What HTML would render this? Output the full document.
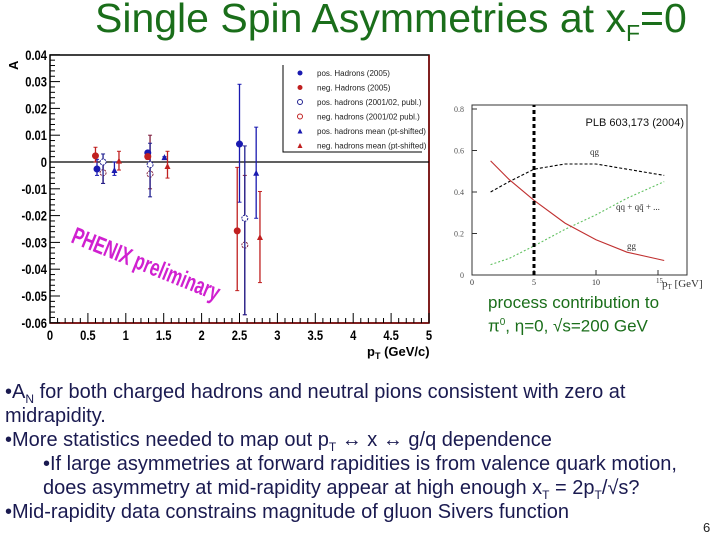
<!DOCTYPE html>
<html><head><meta charset="utf-8"><style>
body{margin:0;width:720px;height:540px;background:#fff;overflow:hidden;position:relative;font-family:"Liberation Sans",Arial,sans-serif}
.t{position:absolute;white-space:nowrap}
#title{left:95px;top:-5px;font-size:41px;color:#1a6e1a}
.b{font-size:20px;color:#1a1a50;position:absolute;white-space:nowrap;left:5px;line-height:24px}
sub{font-size:12px}
</style></head><body>
<div id="title" class="t">Single Spin Asymmetries at x<sub style="font-size:23px">F</sub>=0</div>
<svg id="main" width="720" height="540" style="position:absolute;left:0;top:0"></svg>
<div class="b" style="top:380px">•A<sub>N</sub> for both charged hadrons and neutral pions consistent with zero at</div>
<div class="b" style="top:404px">midrapidity.</div>
<div class="b" style="top:428px">•More statistics needed to map out p<sub>T</sub> ↔ x ↔ g/q dependence</div>
<div class="b" style="top:452px;left:43px">•If large asymmetries at forward rapidities is from valence quark motion,</div>
<div class="b" style="top:476px;left:43px">does asymmetry at mid-rapidity appear at high enough x<sub>T</sub> = 2p<sub>T</sub>/√s?</div>
<div class="b" style="top:500px">•Mid-rapidity data constrains magnitude of gluon Sivers function</div>
<div class="t" style="left:703px;top:520px;font-size:13px;color:#222">6</div>
<div class="t" style="left:488px;top:293px;font-size:17px;color:#1a6e1a;line-height:20px">process contribution to<br>π<sup style="font-size:10px">0</sup>, η=0, √s=200 GeV</div>
<script>
// Main chart data
const posH05 = [[0.62,-0.0026,0.001,-0.005],[1.29,0.0034,0.004,0.002],[2.50,0.0067,0.029,-0.015]];
const negH05 = [[0.60,0.0023,0.0055,0.0],[1.29,0.0020,0.003,0.001],[2.47,-0.0257,-0.002,-0.048]];
const posOpen = [[0.70,0.0,0.003,-0.008],[1.32,-0.001,0.007,-0.013],[2.57,-0.021,0.006,-0.057]];
const negOpen = [[0.70,-0.004,0.0,-0.008],[1.32,-0.0045,0.010,-0.010],[2.57,-0.031,-0.005,-0.057]];
const posMean = [[0.85,-0.003,0.0,-0.005],[1.51,0.0018,0.002,0.0015],[2.72,-0.004,0.013,-0.021]];
const negMean = [[0.91,0.0005,0.004,-0.003],[1.55,-0.0015,0.004,-0.006],[2.77,-0.028,-0.011,-0.045]];
const xTicks=[0,0.5,1,1.5,2,2.5,3,3.5,4,4.5,5];
const yTicks=[0.04,0.03,0.02,0.01,0,-0.01,-0.02,-0.03,-0.04,-0.05,-0.06];
const yTickLabels=["0.04","0.03","0.02","0.01","0","-0.01","-0.02","-0.03","-0.04","-0.05","-0.06"];
// Inset data
const insetX=[1.5,3,5,7.5,10,12.5,15.5];
const ggVals=[0.55,0.46,0.36,0.25,0.17,0.11,0.07];
const qgVals=[0.40,0.45,0.51,0.535,0.535,0.51,0.48];
const qqVals=[0.05,0.08,0.14,0.22,0.29,0.37,0.45];
const insetXTicks=[0,5,10,15];
const insetYTicks=[0,0.2,0.4,0.6,0.8];

const NS="http://www.w3.org/2000/svg";
const svg=document.getElementById('main');
function mk(tag,a,parent){const e=document.createElementNS(NS,tag);for(const k in a)e.setAttribute(k,a[k]);(parent||svg).appendChild(e);return e;}
function txt(x,y,s,a){const e=mk('text',Object.assign({x:x,y:y},a));e.textContent=s;return e;}
const X=v=>50+v*75.8, Y=v=>162-v*2680;
let f=mk('rect',{x:50,y:55,width:379,height:268,fill:'none',stroke:'#000','stroke-width':1.5});

mk('line',{x1:429,y1:55,x2:429,y2:323,stroke:'#800000','stroke-width':1.5});
mk('line',{x1:50,y1:323,x2:429,y2:323,stroke:'#800000','stroke-width':1.5});
xTicks.forEach((v,i)=>{mk('line',{x1:X(v),y1:323,x2:X(v),y2:313,stroke:'#000'});
 if(i<10)for(let k=1;k<5;k++)mk('line',{x1:X(v+k*0.1),y1:323,x2:X(v+k*0.1),y2:318,stroke:'#000'});
 const t=txt(X(v),340,String(v),{'font-size':14,'font-weight':'bold','text-anchor':'middle',transform:`translate(${X(v)},0) scale(0.8,1) translate(${-X(v)},0)`});
 });
yTicks.forEach((v,i)=>{mk('line',{x1:50,y1:Y(v),x2:60,y2:Y(v),stroke:'#000'});
 if(i<10)for(let k=1;k<5;k++)mk('line',{x1:50,y1:Y(v-k*0.002),x2:55,y2:Y(v-k*0.002),stroke:'#000'});
 const t=txt(47,Y(v)+5,yTickLabels[i],{'font-size':14,'font-weight':'bold','text-anchor':'end',transform:`translate(47,0) scale(0.8,1) translate(-47,0)`});
 });
mk('line',{x1:50,y1:Y(0),x2:429,y2:Y(0),stroke:'#000','stroke-width':1.2});
let yl=txt(18,70,'A',{'font-size':13,'font-weight':'bold',transform:'rotate(-90 18 70)'});

let xl=txt(367,356,'p',{'font-size':13,'font-weight':'bold'});
xl.innerHTML='p<tspan font-size="9" dy="3">T</tspan><tspan dy="-3"> (GeV/c)</tspan>';

let ph=txt(70,242,'PHENIX preliminary',{'font-size':24,'font-weight':'bold',fill:'#d020d0',transform:'rotate(22 70 242) translate(70,0) scale(0.7,1) translate(-70,0)'});

function series(data,color,shape,name){data.forEach(d=>{
 const g=mk('g',{});
 const x=X(d[0]);mk('line',{x1:x,y1:Y(d[2]),x2:x,y2:Y(d[3]),stroke:color,'stroke-width':1.3},g);
 mk('line',{x1:x-2,y1:Y(d[2]),x2:x+2,y2:Y(d[2]),stroke:color},g);mk('line',{x1:x-2,y1:Y(d[3]),x2:x+2,y2:Y(d[3]),stroke:color},g);
 const y=Y(d[1]);
 if(shape==='c')mk('circle',{cx:x,cy:y,r:3.5,fill:color},g);
 else if(shape==='o')mk('circle',{cx:x,cy:y,r:3,fill:'#fff',stroke:color,'stroke-dasharray':'2,1'},g);
 else mk('polygon',{points:`${x-3},${y+3} ${x+3},${y+3} ${x},${y-3}`,fill:color},g);});}
series(negOpen,'#802040','o','neg-hadrons-0102-point');
series(posOpen,'#202090','o','pos-hadrons-0102-point');
series(posH05,'#1a1ab0','c','pos-hadrons-2005-point');
series(negH05,'#c02020','c','neg-hadrons-2005-point');
series(posMean,'#1a1ab0','t','pos-mean-point');
series(negMean,'#c02020','t','neg-mean-point');
// legend
const lg=mk('g',{});
mk('polyline',{points:'283,65 283,152 422,152',fill:'none',stroke:'#000'},lg);
const legItems=[['pos. Hadrons (2005)','#1a1ab0','c'],['neg. Hadrons (2005)','#c02020','c'],['pos. hadrons (2001/02, publ.)','#202090','o'],['neg. hadrons (2001/02 publ.)','#c02020','o'],['pos. hadrons mean (pt-shifted)','#1a1ab0','t'],['neg. hadrons mean (pt-shifted)','#c02020','t']];
legItems.forEach((it,i)=>{const y=73+i*14.5;const x=300;
 if(it[2]==='c')mk('circle',{cx:x,cy:y,r:2.5,fill:it[1]},lg);
 else if(it[2]==='o')mk('circle',{cx:x,cy:y,r:2.5,fill:'none',stroke:it[1]},lg);
 else mk('polygon',{points:`${x-2.5},${y+2.5} ${x+2.5},${y+2.5} ${x},${y-2.5}`,fill:it[1]},lg);
 const t=txt(317,y+3,it[0],{'font-size':8,fill:'#222'},);lg.appendChild(t);
 });
// inset
const IX=v=>472+v*12.4, IY=v=>275-v*207.5;
const ig=mk('g',{});
mk('rect',{x:472,y:105,width:215,height:170,fill:'none',stroke:'#333'},ig);
insetXTicks.forEach(v=>{mk('line',{x1:IX(v),y1:275,x2:IX(v),y2:270,stroke:'#333'},ig);
 if(v<15)txt(IX(v),285,String(v),{'font-size':8,'text-anchor':'middle',fill:'#333','font-family':'Liberation Serif'});});
txt(IX(15)-2,283,'15',{'font-size':7,fill:'#333','font-family':'Liberation Serif'});
insetYTicks.forEach(v=>{mk('line',{x1:472,y1:IY(v),x2:477,y2:IY(v),stroke:'#333'},ig);
 txt(464,IY(v)+3,String(v),{'font-size':8,'text-anchor':'end',fill:'#555','font-family':'Liberation Serif'});});
txt(662,287,'pT [GeV]',{'font-size':11,fill:'#333','font-family':'Liberation Serif'}).innerHTML='p<tspan font-size="7" dy="2">T</tspan><tspan dy="-2"> [GeV]</tspan>';
function curve(vals,color,dash,name){const p=vals.map((v,i)=>`${IX(insetX[i])},${IY(v)}`).join(' ');
 const l=mk('polyline',{points:p,fill:'none',stroke:color,'stroke-width':1.1,'stroke-dasharray':dash},ig);
 }
curve(qqVals,'#60c060','2,2','qq-curve');
curve(qgVals,'#000','3,2','qg-curve');
curve(ggVals,'#c03030','','gg-curve');
mk('line',{x1:IX(5),y1:IY(0),x2:IX(5),y2:105,stroke:'#000','stroke-width':3,'stroke-dasharray':'4,3'},ig);
txt(590,155,'qg',{'font-size':9,fill:'#333','font-family':'Liberation Serif'});
txt(616,210,'qq + qq̄ + ...',{'font-size':9,fill:'#333','font-family':'Liberation Serif'});
txt(627,249,'gg',{'font-size':9,fill:'#333','font-family':'Liberation Serif'});
txt(684,126,'PLB 603,173 (2004)',{'font-size':11,'text-anchor':'end',fill:'#111'});
</script>
</body></html>
